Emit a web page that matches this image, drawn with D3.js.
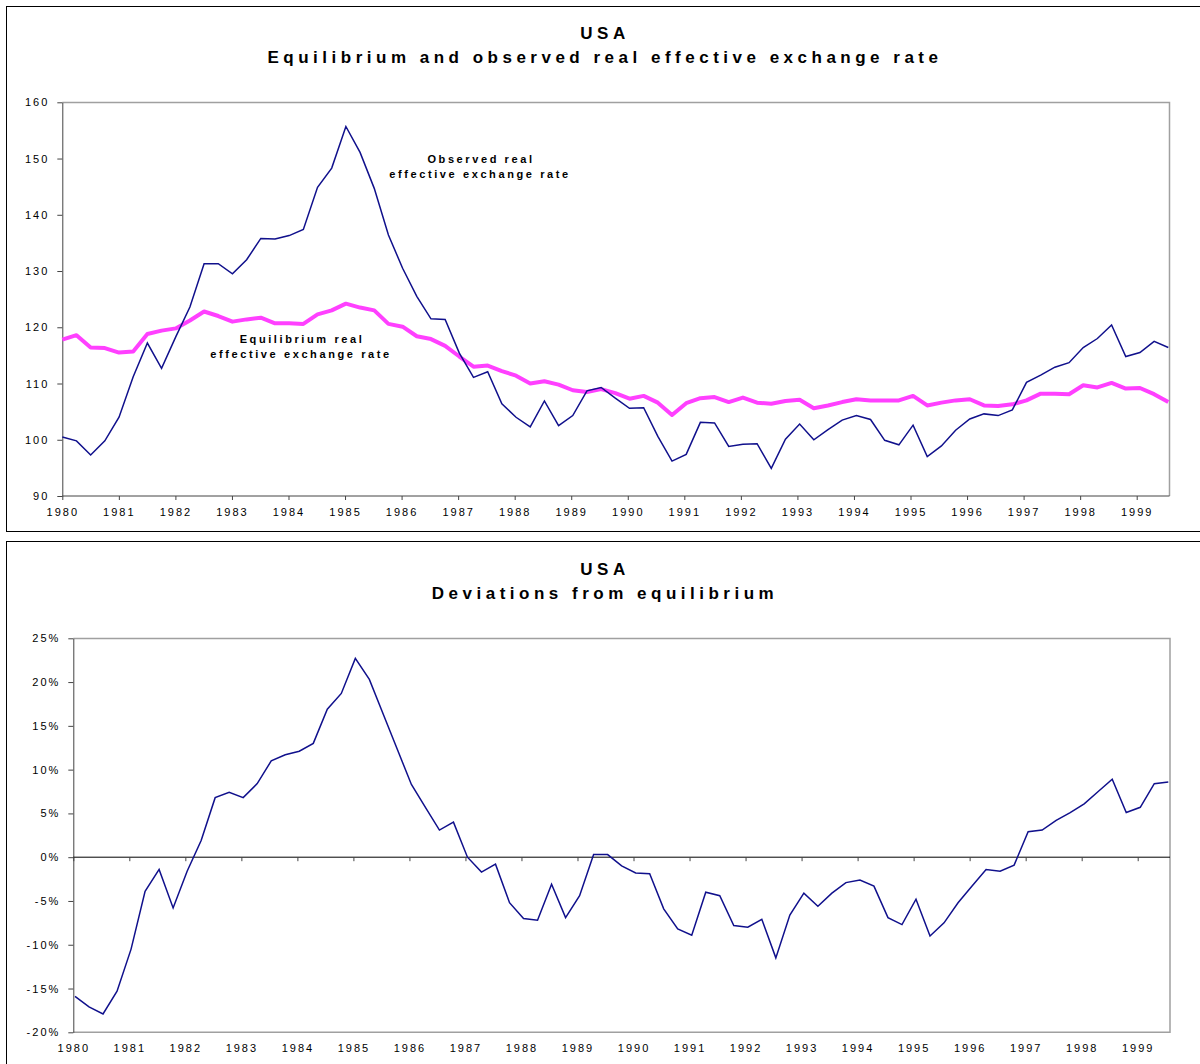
<html>
<head>
<script src="https://cdnjs.cloudflare.com/ajax/libs/d3/7.8.5/d3.min.js"></script>
<style>
  body { margin: 0; background: #fff; }
  text { font-family: "Liberation Sans", Arial, sans-serif; }
</style>
</head>
<body>
<script>
// quarterly series, 1980Q1 .. 1999Q3
var observed = [100.5, 99.8, 97.3, 99.8, 104.0, 111.2, 117.2, 112.7, 118.3, 123.6,
  131.3, 131.3, 129.5, 132.0, 135.8, 135.7, 136.3, 137.4, 144.9, 148.3,
  155.7, 151.1, 144.7, 136.4, 130.5, 125.5, 121.5, 121.4, 115.4, 111.1,
  112.1, 106.4, 104.0, 102.3, 106.9, 102.5, 104.3, 108.7, 109.3, 107.4,
  105.6, 105.7, 100.6, 96.2, 97.4, 103.1, 103.0, 98.8, 99.2, 99.3,
  94.9, 100.1, 102.8, 100.0, 101.8, 103.5, 104.3, 103.6, 99.9, 99.1,
  102.6, 97.0, 98.9, 101.7, 103.7, 104.6, 104.3, 105.3, 110.2, 111.5,
  112.9, 113.7, 116.4, 118.0, 120.4, 114.8, 115.5, 117.5, 116.4];

var equilibrium = [117.8, 118.6, 116.4, 116.3, 115.5, 115.7, 118.8, 119.4, 119.8, 121.2,
  122.8, 122.0, 121.0, 121.4, 121.7, 120.7, 120.7, 120.6, 122.3, 123.0,
  124.2, 123.5, 123.0, 120.6, 120.1, 118.4, 117.9, 116.7, 114.8, 113.0,
  113.2, 112.2, 111.4, 110.0, 110.4, 109.8, 108.8, 108.5, 109.0, 108.3,
  107.3, 107.8, 106.6, 104.4, 106.5, 107.4, 107.6, 106.7, 107.5, 106.6,
  106.4, 106.9, 107.1, 105.6, 106.1, 106.7, 107.2, 107.0, 107.0, 107.0,
  107.8, 106.1, 106.6, 107.0, 107.2, 106.1, 106.0, 106.3, 107.0, 108.2,
  108.2, 108.1, 109.7, 109.3, 110.1, 109.1, 109.2, 108.1, 106.7];

// deviation from equilibrium, in percent
var deviation = [-15.9, -17.1, -17.9, -15.3, -10.5, -3.9, -1.4, -5.8, -1.6, 1.9,
  6.8, 7.4, 6.8, 8.4, 11.0, 11.7, 12.1, 13.0, 16.9, 18.7,
  22.7, 20.3, 16.3, 12.3, 8.3, 5.7, 3.1, 4.0, 0.0, -1.7,
  -0.8, -5.2, -7.0, -7.2, -3.1, -6.9, -4.4, 0.3, 0.3, -1.0,
  -1.8, -1.9, -5.9, -8.2, -8.9, -4.0, -4.4, -7.8, -8.0, -7.1,
  -11.5, -6.6, -4.1, -5.6, -4.1, -2.9, -2.6, -3.3, -6.9, -7.7,
  -4.8, -9.0, -7.5, -5.2, -3.3, -1.4, -1.6, -0.9, 2.9, 3.1,
  4.2, 5.1, 6.1, 7.5, 8.9, 5.1, 5.7, 8.4, 8.6];

var years = [1980, 1981, 1982, 1983, 1984, 1985, 1986, 1987, 1988, 1989,
  1990, 1991, 1992, 1993, 1994, 1995, 1996, 1997, 1998, 1999];
var levelTicks = [90, 100, 110, 120, 130, 140, 150, 160];
var pctTicks = [-20, -15, -10, -5, 0, 5, 10, 15, 20, 25];

var svg = d3.select("body").append("svg")
    .attr("width", 1200)
    .attr("height", 1064);

var navy = "#10108c";
var pink = "#ff40ff";

function frame(y, h) {
  svg.append("rect")
    .attr("x", 6.5).attr("y", y + 0.5)
    .attr("width", 1200).attr("height", h)
    .attr("fill", "none").attr("stroke", "#000").attr("stroke-width", 1);
}

function titles(y, l1, l2) {
  var t = svg.append("g")
    .attr("text-anchor", "middle")
    .style("font-size", "17px")
    .style("font-weight", "bold")
    .style("letter-spacing", "4.5px");
  t.append("text").attr("x", 605).attr("y", y).text(l1);
  t.append("text").attr("x", 605).attr("y", y + 24).text(l2);
}

function styleAxis(g) {
  g.selectAll("path").attr("stroke", "#444");
  g.selectAll("line").attr("stroke", "#444");
  g.selectAll("text")
    .attr("fill", "#000")
    .style("font-size", "11px")
    .style("letter-spacing", "2px");
}

// ---------- top chart ----------
frame(6, 525);
titles(39, "USA", "Equilibrium and observed real effective exchange rate");

var x1 = d3.scaleLinear().domain([0, observed.length - 1]).range([62.3, 1168.3]);
var yr1 = d3.scaleLinear().domain([1980, 1999]).range([62.3, 1136.7]);
var y1 = d3.scaleLinear().domain([90, 160]).range([496, 102.3]);

// plot border (top/right)
svg.append("path")
  .attr("d", "M62.3,102.5H1169.5V496")
  .attr("fill", "none").attr("stroke", "#a0a0a0").attr("stroke-width", 1.5);

svg.append("g")
  .attr("transform", "translate(62.3,0)")
  .call(d3.axisLeft(y1).tickValues(levelTicks).tickSize(5).tickSizeOuter(0).tickPadding(8))
  .call(styleAxis);

svg.append("g")
  .attr("transform", "translate(0,496)")
  .call(d3.axisBottom(yr1).tickValues(years).tickFormat(d3.format("d")).tickSize(4).tickSizeOuter(0).tickPadding(8))
  .call(styleAxis)
  .call(g => g.select(".domain").attr("d", "M62.3,0H1169.5"));

var line1 = d3.line().x((d, i) => x1(i));

svg.append("path")
  .datum(equilibrium)
  .attr("d", line1.y(d => y1(d)))
  .attr("fill", "none").attr("stroke", pink).attr("stroke-width", 4)
  .attr("stroke-linejoin", "round");

svg.append("path")
  .datum(observed)
  .attr("d", line1.y(d => y1(d)))
  .attr("fill", "none").attr("stroke", navy).attr("stroke-width", 1.5);

var ann = svg.append("g")
  .attr("text-anchor", "middle")
  .style("font-size", "11px")
  .style("font-weight", "bold")
  .style("letter-spacing", "2.6px");
ann.append("text").attr("x", 481).attr("y", 163).text("Observed real");
ann.append("text").attr("x", 480).attr("y", 178).text("effective exchange rate");
ann.append("text").attr("x", 302).attr("y", 343).text("Equilibrium real");
ann.append("text").attr("x", 301).attr("y", 358).text("effective exchange rate");

// ---------- bottom chart ----------
frame(541, 600);
titles(575, "USA", "Deviations from equilibrium");

var x2 = d3.scaleLinear().domain([0, deviation.length - 1]).range([75, 1168.3]);
var yr2 = d3.scaleLinear().domain([1980, 1999]).range([73.3, 1137.7]);
var y2 = d3.scaleLinear().domain([-20, 25]).range([1032.3, 638.3]);

svg.append("path")
  .attr("d", "M73.3,638.5H1170V1032.3H73.3")
  .attr("fill", "none").attr("stroke", "#a0a0a0").attr("stroke-width", 1.5);

svg.append("g")
  .attr("transform", "translate(73.3,0)")
  .call(d3.axisLeft(y2).tickValues(pctTicks).tickFormat(d => d + "%").tickSize(5).tickSizeOuter(0).tickPadding(8))
  .call(styleAxis);

// year ticks sit on the zero line, labels at the bottom
var xAxis2 = svg.append("g")
  .attr("transform", "translate(0," + y2(0) + ")")
  .call(d3.axisBottom(yr2).tickValues(years).tickFormat("").tickSize(4).tickSizeOuter(0))
  .call(styleAxis);
xAxis2.select(".domain").attr("d", "M73.3,0H1170").attr("stroke", "#000");

svg.append("g")
  .attr("transform", "translate(0,1032.3)")
  .call(d3.axisBottom(yr2).tickValues(years).tickFormat(d3.format("d")).tickSize(0).tickPadding(12))
  .call(styleAxis)
  .call(g => g.select(".domain").remove());

svg.append("path")
  .datum(deviation)
  .attr("d", d3.line().x((d, i) => x2(i)).y(d => y2(d)))
  .attr("fill", "none").attr("stroke", navy).attr("stroke-width", 1.5);
</script>
</body>
</html>
